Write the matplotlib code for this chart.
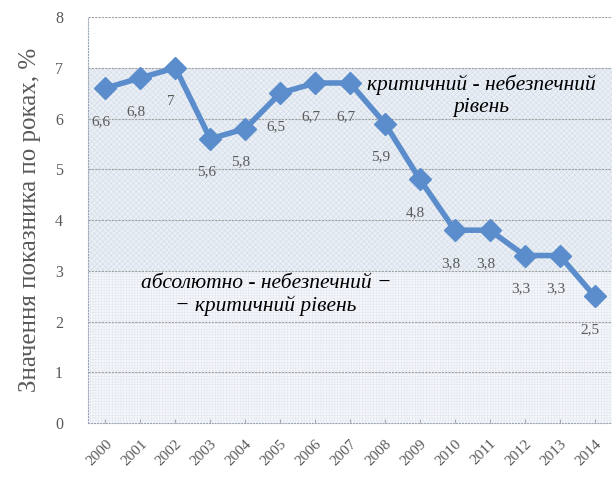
import numpy as np
import matplotlib.pyplot as plt

## -----------------------------------------------
# data
## -----------------------------------------------
years = ['2000', '2001', '2002', '2003', '2004', '2005', '2006', '2007',
         '2008', '2009', '2010', '2011', '2012', '2013', '2014']
values = [6.6, 6.8, 7.0, 5.6, 5.8, 6.5, 6.7, 6.7, 5.9, 4.8, 3.8, 3.8, 3.3, 3.3, 2.5]
labels = ['6,6', '6,8', '7', '5,6', '5,8', '6,5', '6,7', '6,7', '5,9', '4,8',
          '3,8', '3,8', '3,3', '3,3', '2,5']
y_ticks = [0, 1, 2, 3, 4, 5, 6, 7, 8]
band_upper = (3, 7)   # критичний - небезпечний
band_lower = (0, 3)   # абсолютно - небезпечний - критичний

serif = 'Liberation Serif'
line_col = '#5b8dcc'
grey = '#595959'

## -----------------------------------------------
# plot
## -----------------------------------------------
fig = plt.figure(figsize=(6.13, 4.82), dpi=100)
ax = fig.add_axes([0.1436, 0.1224, 0.8548, 0.8423])

x = np.arange(len(years))
ax.set_xlim(-0.5, len(years) - 0.5)
ax.set_ylim(0, 8)

# background bands
plt.rcParams['hatch.linewidth'] = 0.4
ax.axhspan(*band_upper, facecolor='#eaeff5', edgecolor='#d3dce8', hatch='xxxxxx', lw=0, zorder=0)
ax.axhspan(*band_lower, facecolor='#f5f7fb', edgecolor='#e2e8f0', hatch='++++++', lw=0, zorder=0)

# grid
for yv in y_ticks[1:]:
    ax.axhline(yv, color='#a0a0a0', lw=0.8, ls=(0, (2, 1)), zorder=1)

ax.plot(x, values, color=line_col, lw=4, marker='D', ms=11,
        markerfacecolor=line_col, markeredgecolor=line_col, zorder=3)

for xi, v, s in zip(x, values, labels):
    ax.annotate(s, (xi, v), xytext=(-3, -24), textcoords='offset points',
                ha='center', va='center', fontsize=11, family=serif, color=grey)

ax.text(10.75, 6.45, 'критичний - небезпечний\nрівень', ha='center', va='center',
        fontsize=15.5, style='italic', family=serif, color='black', linespacing=1.2)
ax.text(4.6, 2.52, 'абсолютно - небезпечний −\n− критичний рівень', ha='center', va='center',
        fontsize=15.5, style='italic', family=serif, color='black', linespacing=1.2)

ax.set_yticks(y_ticks)
ax.set_yticklabels([str(t) for t in y_ticks], family=serif, fontsize=11.5, color=grey)
ax.set_xticks(x)
ax.set_xticklabels(years, rotation=45, ha='right', rotation_mode='anchor',
                   family=serif, fontsize=11, color=grey)
ax.tick_params(axis='y', length=0, pad=18)
ax.tick_params(axis='x', length=3, direction='in', color='#aaaaaa', pad=10)
ax.set_ylabel('Значення показника по роках, %', family=serif, fontsize=18,
              color=grey, labelpad=10)

for side in ['top', 'right']:
    ax.spines[side].set_visible(False)
ax.spines['left'].set_color('#9aa5b5')
ax.spines['left'].set_linestyle(':')
ax.spines['bottom'].set_color('#9aa5b5')
ax.spines['bottom'].set_linestyle(':')

fig.savefig('out.png', dpi=100, facecolor='white')
